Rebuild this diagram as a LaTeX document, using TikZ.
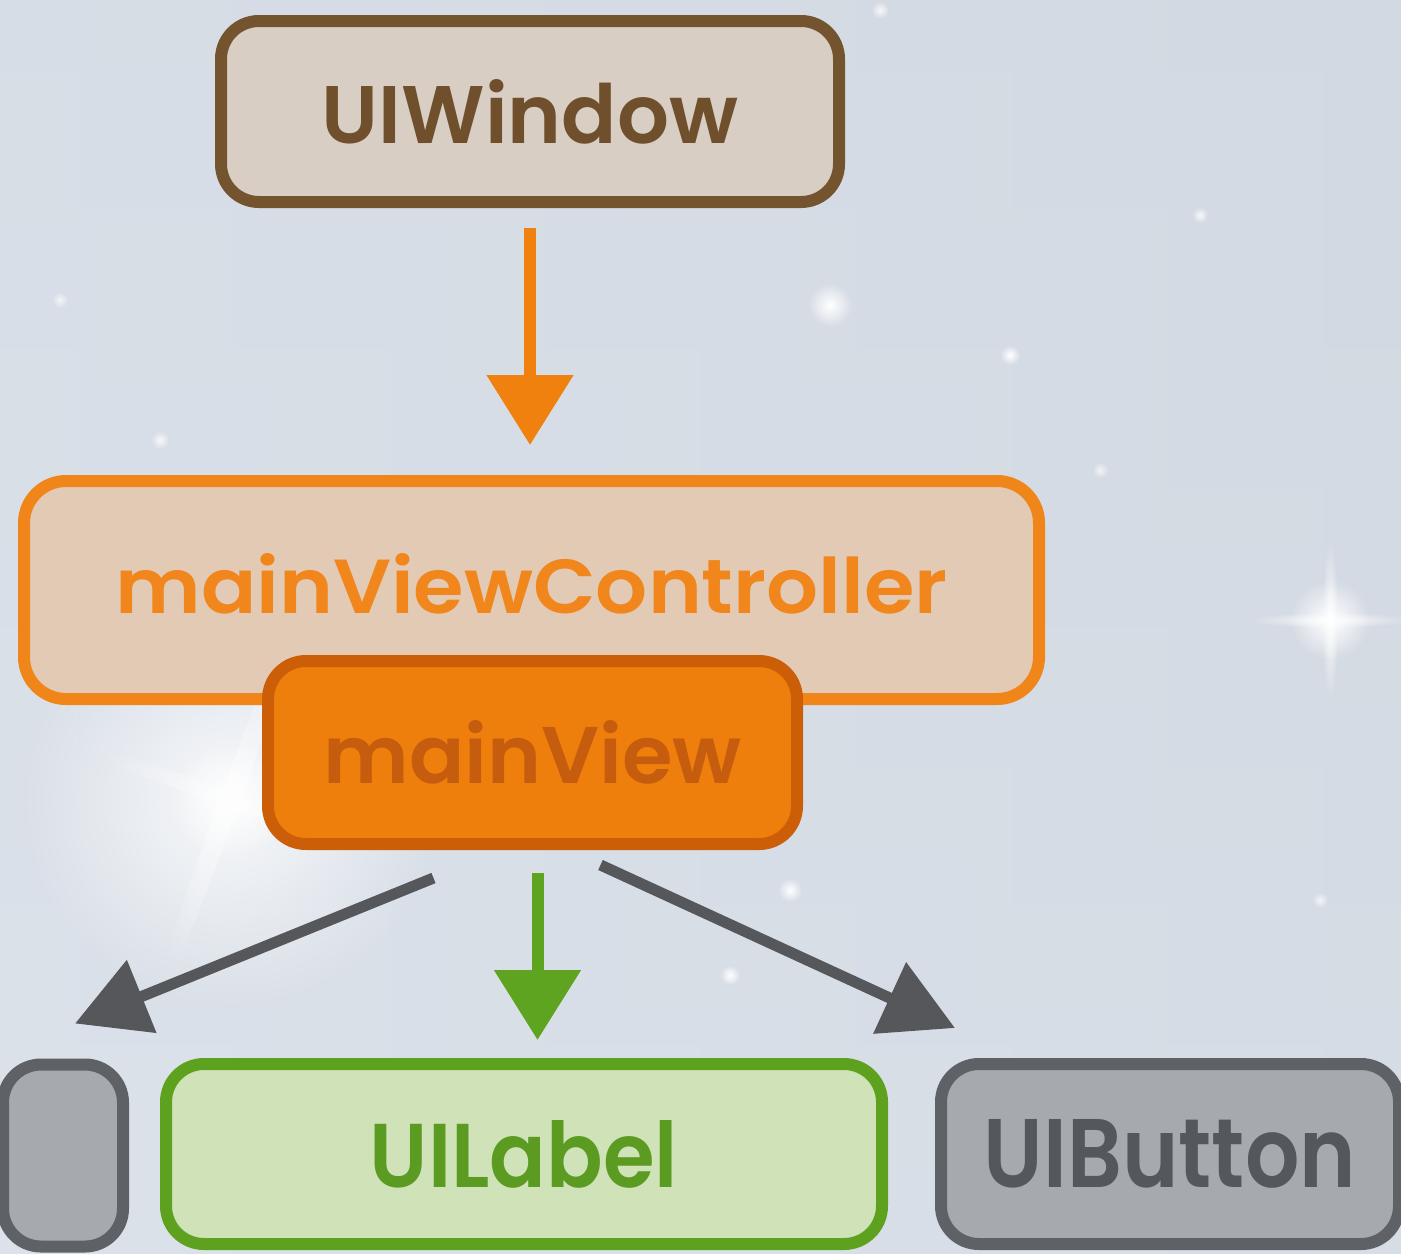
\documentclass[tikz,border=0pt]{standalone}
\usepackage{fontspec}
\setmainfont{Poppins}[BoldFont={Poppins SemiBold}]
\usetikzlibrary{arrows.meta,fadings,calc}

\definecolor{skyTop}{HTML}{D3D9E2}
\definecolor{skyBot}{HTML}{DCE2EA}
\definecolor{winFill}{HTML}{D9CEC3}
\definecolor{winLine}{HTML}{74542F}
\definecolor{winText}{HTML}{6F4F2C}
\definecolor{vcFill}{HTML}{E2CAB4}
\definecolor{vcLine}{HTML}{F08519}
\definecolor{vcText}{HTML}{F0861C}
\definecolor{mvFill}{HTML}{EF7F0C}
\definecolor{mvLine}{HTML}{CC5E08}
\definecolor{mvText}{HTML}{C55C0E}
\definecolor{grFill}{HTML}{A6A9AE}
\definecolor{grLine}{HTML}{5E6166}
\definecolor{grText}{HTML}{54575B}
\definecolor{lbFill}{HTML}{D0E2B8}
\definecolor{lbLine}{HTML}{5EA11F}
\definecolor{lbText}{HTML}{5B9B22}
\definecolor{arOrange}{HTML}{F0810E}
\definecolor{arGreen}{HTML}{5EA420}
\definecolor{arGray}{HTML}{55575B}

% word scaled to a given width and cap height (in pt)
\newcommand\fitword[3]{\resizebox{#1pt}{#2pt}{#3}}

% soft radial spot for glows and stars
\tikzfading[name=softspot, inner color=transparent!0, outer color=transparent!100]

\tikzset{
  box/.style={draw, rounded corners=19pt, line width=6pt, inner sep=0pt,
    font=\bfseries},
  link/.style={line width=6pt, -{Triangle[width=42pt,length=35pt]}},
  sidelink/.style={line width=5.5pt, color=arGray,
    -{Triangle[width=38pt,length=36pt]}},
  star/.style={white, path fading=softspot},
}

\begin{document}
\begin{tikzpicture}[x=0.5pt,y=-0.5pt]
  \useasboundingbox (0,0) rectangle (1401,1253);
  \clip (0,0) rectangle (1401,1253);

  % sky backdrop
  \shade[top color=skyTop, bottom color=skyBot] (0,0) rectangle (1401,1253);
  \shade[left color=skyBot, right color=skyTop, opacity=0.5] (0,0) rectangle (1401,1253);
  % bright glow and a few stars
  \fill[star, opacity=0.8] (230,800) circle (210);
  \fill[star, opacity=0.9] (230,800) circle (60);
  \fill[star, opacity=0.5, rotate around={-20:(230,800)}] (230,800) ellipse (10 and 240);
  \fill[star, opacity=0.4, rotate around={70:(230,800)}] (230,800) ellipse (8 and 200);
  \fill[star] (830,305) circle (22);
  \fill[star] (1330,620) circle (40);
  \fill[star, opacity=0.8] (1330,620) ellipse (80 and 8);
  \fill[star, opacity=0.8] (1330,620) ellipse (8 and 80);
  \fill[star] (1010,355) circle (10);
  \fill[star] (790,890) circle (12);
  \fill[star] (730,975) circle (10);
  \fill[star, opacity=0.8] (160,440) circle (9);
  \fill[star, opacity=0.8] (1200,215) circle (8);
  \fill[star, opacity=0.8] (880,10) circle (9);
  \fill[star, opacity=0.7] (1100,470) circle (8);
  \fill[star, opacity=0.7] (60,300) circle (8);
  \fill[star, opacity=0.7] (1320,900) circle (8);

  % boxes
  \node[box, draw=winLine, fill=winFill, text=winText,
        minimum width=309pt, minimum height=90.5pt]
        (win) at (530,111.5) {\fitword{208}{32}{UIWindow}};

  \node[box, draw=vcLine, fill=vcFill, text=vcText, rounded corners=21pt,
        minimum width=507.5pt, minimum height=109pt]
        (mvc) at (531.5,590) {\raisebox{7pt}{\fitword{416}{30}{mainViewController}}};

  \node[box, draw=mvLine, fill=mvFill, text=mvText,
        minimum width=264.5pt, minimum height=91.5pt]
        (mv) at (532.5,752.5) {\fitword{209}{31.5}{mainView}};

  \node[box, draw=grLine, fill=grFill,
        minimum width=60pt, minimum height=91pt]
        (lft) at (63,1155.5) {};

  \node[box, draw=lbLine, fill=lbFill, text=lbText,
        minimum width=358pt, minimum height=90pt]
        (lbl) at (524,1154) {\fitword{154}{33.5}{UILabel}};

  \node[box, draw=grLine, fill=grFill, text=grText,
        minimum width=229pt, minimum height=90pt]
        (btn) at (1170,1154) {\fitword{186}{34}{UIButton}};

  % connectors
  \draw[link, color=arOrange, shorten <=10pt, shorten >=15pt]
    (win.south) -- (win.south |- mvc.north);
  \draw[link, color=arGreen, shorten <=11.5pt, shorten >=9pt]
    ([xshift=2.5pt]mv.south) -- ([xshift=2.5pt]mv.south |- lbl.north);
  \draw[sidelink]
    ([shift={(-99,28)}]mv.south) -- ([shift={(12,-35)}]lft.north);
  \draw[sidelink]
    ([shift={(68,15)}]mv.south) -- ([shift={(20,-30)}]btn.north west);
\end{tikzpicture}
\end{document}
